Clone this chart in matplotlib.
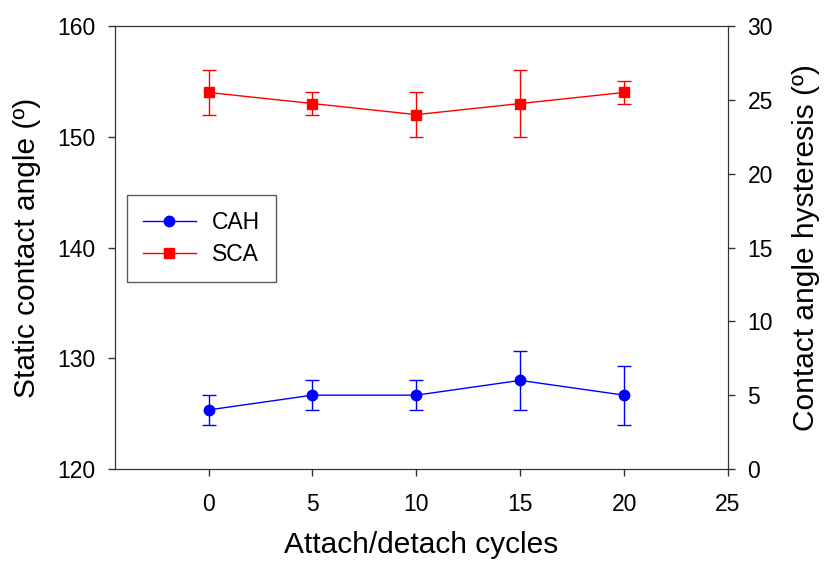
import numpy as np
import matplotlib
matplotlib.use('Agg')
import matplotlib.pyplot as plt
from matplotlib.lines import Line2D

plt.rcParams['font.family'] = ['Liberation Sans', 'DejaVu Sans']

cycles = [0, 5, 10, 15, 20]
sca = [154, 153, 152, 153, 154]
sca_err = [2, 1, 2, 3, 1]
cah = [4, 5, 5, 6, 5]
cah_err = [1, 1, 1, 2, 2]

fig = plt.figure(figsize=(8.24, 5.62), dpi=100)
ax = fig.add_axes([0.1396, 0.1655, 0.7439, 0.7882])
ax2 = ax.twinx()

# static contact angle on the left axis
ax.errorbar(cycles, sca, yerr=sca_err, color='#ff0000', marker='s',
    markersize=7, lw=1, elinewidth=1, capsize=5, capthick=1)
# hysteresis on the right axis
ax2.errorbar(cycles, cah, yerr=cah_err, color='#0000ff', marker='o',
    markersize=7.5, lw=1, elinewidth=1, capsize=5, capthick=1)

ax.set_xlim(-4.5, 25)
ax.set_ylim(120, 160)
ax2.set_ylim(0, 30)
ax.set_xticks([0, 5, 10, 15, 20, 25])
ax.set_yticks([120, 130, 140, 150, 160])
ax2.set_yticks([0, 5, 10, 15, 20, 25, 30])

for a in (ax, ax2):
  a.tick_params(direction='out', length=5, width=1, labelsize=16.5, color='#333333')
  a.tick_params(axis='y', pad=9)
  for s in a.spines.values():
    s.set_color('#333333')
ax.tick_params(axis='x', pad=12)

ax.set_xlabel('Attach/detach cycles', fontsize=21.5, labelpad=11)
ax.set_ylabel('Static contact angle (º)', fontsize=21.5, labelpad=12)
ax2.set_ylabel('Contact angle hysteresis (º)', fontsize=21.5, labelpad=14)

handles = [
  Line2D([], [], color='#0000ff', marker='o', markersize=7.5, lw=1),
  Line2D([], [], color='#ff0000', marker='s', markersize=7, lw=1),
]
leg = ax.legend(handles, ['CAH', 'SCA'], loc='upper left',
    bbox_to_anchor=(0.0196, 0.6185), borderaxespad=0, fontsize=16.5,
    frameon=True, fancybox=False, handlelength=2.3, handletextpad=0.7,
    borderpad=0.7, labelspacing=0.4)
leg.get_frame().set_edgecolor('#333333')
leg.get_frame().set_linewidth(1)

fig.savefig('out.png', dpi=100)
